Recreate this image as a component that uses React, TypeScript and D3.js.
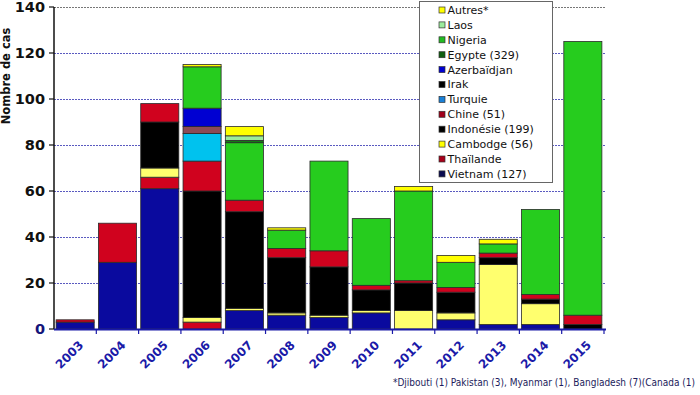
import React, { useEffect, useRef } from "react";
import * as d3 from "d3";

const annees = ["2003", "2004", "2005", "2006", "2007", "2008", "2009", "2010", "2011", "2012", "2013", "2014", "2015"];

// cas par pays et par année (ordre d'empilement, du bas vers le haut)
const vietnam = [3, 29, 61, 0, 8, 6, 5, 7, 0, 4, 2, 2, 0];
const thailande = [0, 17, 5, 3, 0, 0, 0, 0, 0, 0, 0, 0, 0];
const cambodge = [0, 0, 4, 2, 1, 1, 1, 1, 8, 3, 26, 9, 0];
const indonesie = [0, 0, 20, 55, 42, 24, 21, 9, 12, 9, 3, 2, 2];
const chine = [1, 0, 8, 13, 5, 4, 7, 2, 1, 2, 2, 2, 4];
const turquie = [0, 0, 0, 12, 0, 0, 0, 0, 0, 0, 0, 0, 0];
const irak = [0, 0, 0, 3, 0, 0, 0, 0, 0, 0, 0, 0, 0];
const azerbaidjan = [0, 0, 0, 8, 0, 0, 0, 0, 0, 0, 0, 0, 0];
const egypte = [0, 0, 0, 18, 25, 8, 39, 29, 39, 11, 4, 37, 119];
const nigeria = [0, 0, 0, 0, 1, 0, 0, 0, 0, 0, 0, 0, 0];
const laos = [0, 0, 0, 0, 2, 0, 0, 0, 0, 0, 0, 0, 0];
const autres = [0, 0, 0, 1, 4, 1, 0, 0, 2, 3, 2, 0, 0];

const series = [
  { key: "vietnam", label: "Vietnam (127)", values: vietnam },
  { key: "thailande", label: "Thaïlande", values: thailande },
  { key: "cambodge", label: "Cambodge (56)", values: cambodge },
  { key: "indonesie", label: "Indonésie (199)", values: indonesie },
  { key: "chine", label: "Chine (51)", values: chine },
  { key: "turquie", label: "Turquie", values: turquie },
  { key: "irak", label: "Irak", values: irak },
  { key: "azerbaidjan", label: "Azerbaïdjan", values: azerbaidjan },
  { key: "egypte", label: "Egypte (329)", values: egypte },
  { key: "nigeria", label: "Nigeria", values: nigeria },
  { key: "laos", label: "Laos", values: laos },
  { key: "autres", label: "Autres*", values: autres }
];

const yTicks = [0, 20, 40, 60, 80, 100, 120, 140];
const note = "*Djibouti (1) Pakistan (3), Myanmar (1), Bangladesh (7)(Canada (1)";

// couleurs des barres
const barColors: Record<string, string> = {
  vietnam: "#0a0a9e",
  thailande: "#d0021e",
  cambodge: "#ffff6e",
  indonesie: "#000000",
  chine: "#d0021e",
  turquie: "#00c2ee",
  irak: "#8c4a55",
  azerbaidjan: "#0000d2",
  egypte: "#26cc1e",
  nigeria: "#137a13",
  laos: "#9cec9c",
  autres: "#ffff00"
};

// couleurs de la légende (différentes dans l'original)
const legendColors: Record<string, string> = {
  vietnam: "#0a0a50",
  thailande: "#a8001a",
  cambodge: "#ffff00",
  indonesie: "#000000",
  chine: "#a0001a",
  turquie: "#1a80d6",
  irak: "#000000",
  azerbaidjan: "#0000d0",
  egypte: "#0e5e0e",
  nigeria: "#22bb22",
  laos: "#9cec9c",
  autres: "#ffff00"
};

function Graphique() {
  const ref = useRef<SVGSVGElement>(null);

  useEffect(() => {
    const width = 700;
    const height = 395;
    const margin = { top: 7, right: 96, bottom: 66, left: 54 };

    const svg = d3.select(ref.current).attr("width", width).attr("height", height);
    svg.selectAll("*").remove();

    const x = d3
      .scaleBand()
      .domain(annees)
      .range([margin.left, width - margin.right])
      .paddingInner(0.1)
      .paddingOuter(0.05);

    const y = d3
      .scaleLinear()
      .domain([0, 140])
      .range([height - margin.bottom, margin.top]);

    // Grille
    svg
      .append("g")
      .selectAll("line")
      .data(yTicks.filter(d => d > 0))
      .join("line")
      .attr("x1", margin.left)
      .attr("x2", width - margin.right + 2)
      .attr("y1", d => y(d) + 0.5)
      .attr("y2", d => y(d) + 0.5)
      .attr("stroke", d => (d === 140 ? "#777" : "#5a5ac0"))
      .attr("stroke-width", 1)
      .attr("stroke-dasharray", "2,1");

    // Empilement
    const table = annees.map((a, i) => {
      const row: Record<string, any> = { annee: a };
      series.forEach(s => (row[s.key] = s.values[i]));
      return row;
    });
    const stacked = d3.stack().keys(series.map(s => s.key))(table as any);

    svg
      .append("g")
      .selectAll("g")
      .data(stacked)
      .join("g")
      .attr("fill", d => barColors[d.key])
      .selectAll("rect")
      .data(d => d.filter(p => p[1] - p[0] > 0))
      .join("rect")
      .attr("x", d => x((d.data as any).annee)!)
      .attr("y", d => y(d[1]))
      .attr("width", x.bandwidth())
      .attr("height", d => y(d[0]) - y(d[1]))
      .attr("stroke", "#2a2a2a")
      .attr("stroke-width", 0.8);

    // Axe Y
    const axeY = svg.append("g");
    axeY
      .append("line")
      .attr("x1", margin.left)
      .attr("x2", margin.left)
      .attr("y1", y(140))
      .attr("y2", y(0))
      .attr("stroke", "#111")
      .attr("stroke-width", 1.5);
    axeY
      .selectAll(".tick")
      .data(yTicks)
      .join("line")
      .attr("x1", margin.left - 5)
      .attr("x2", margin.left)
      .attr("y1", d => y(d))
      .attr("y2", d => y(d))
      .attr("stroke", "#111")
      .attr("stroke-width", 1.2);
    axeY
      .selectAll("text")
      .data(yTicks)
      .join("text")
      .attr("x", margin.left - 9)
      .attr("y", d => y(d))
      .attr("dy", "0.36em")
      .attr("text-anchor", "end")
      .attr("font-family", "DejaVu Sans, Verdana, sans-serif")
      .attr("font-weight", "bold")
      .attr("font-size", "14.5px")
      .attr("fill", d => (d === 0 ? "#14147a" : "#111"))
      .text(d => d);

    svg
      .append("text")
      .attr("transform", "translate(10,76) rotate(-90)")
      .attr("text-anchor", "middle")
      .attr("font-family", "DejaVu Sans, Verdana, sans-serif")
      .attr("font-weight", "bold")
      .attr("font-size", "11.5px")
      .attr("fill", "#111")
      .text("Nombre de cas");

    // Axe X
    const axeX = svg.append("g");
    const step = x.step();
    axeX
      .append("line")
      .attr("x1", margin.left)
      .attr("x2", width - margin.right + 2)
      .attr("y1", y(0) + 0.5)
      .attr("y2", y(0) + 0.5)
      .attr("stroke", "#1a1aa8")
      .attr("stroke-width", 2);
    axeX
      .selectAll(".tick")
      .data(annees)
      .join("line")
      .attr("x1", d => x(d)! + x.bandwidth() + (step - x.bandwidth()) / 2)
      .attr("x2", d => x(d)! + x.bandwidth() + (step - x.bandwidth()) / 2)
      .attr("y1", y(0))
      .attr("y2", y(0) + 5)
      .attr("stroke", "#1a1aa8")
      .attr("stroke-width", 1.2);
    axeX
      .selectAll("text")
      .data(annees)
      .join("text")
      .attr("transform", d => `translate(${x(d)! + x.bandwidth() / 2 + 3},${y(0) + 11}) rotate(-45)`)
      .attr("text-anchor", "end")
      .attr("dy", "0.7em")
      .attr("font-family", "DejaVu Sans, Verdana, sans-serif")
      .attr("font-weight", "bold")
      .attr("font-size", "12px")
      .attr("fill", "#1a1aa8")
      .text(d => d);

    // Légende
    const leg = svg.append("g");
    leg
      .append("rect")
      .attr("x", 419.5)
      .attr("y", 1.5)
      .attr("width", 133)
      .attr("height", 181)
      .attr("fill", "#fff")
      .attr("stroke", "#666")
      .attr("stroke-width", 1);
    const items = leg
      .selectAll("g")
      .data(series.slice().reverse())
      .join("g")
      .attr("transform", (d, i) => `translate(0,${10 + i * 14.9})`);
    items
      .append("rect")
      .attr("x", 439)
      .attr("y", -3)
      .attr("width", 6)
      .attr("height", 6)
      .attr("fill", d => legendColors[d.key])
      .attr("stroke", "#333")
      .attr("stroke-width", 0.7);
    items
      .append("text")
      .attr("x", 447.5)
      .attr("dy", "0.36em")
      .attr("font-family", "DejaVu Sans, Verdana, sans-serif")
      .attr("font-size", "11px")
      .attr("fill", "#111")
      .text(d => d.label);

    // Note
    svg
      .append("text")
      .attr("x", 695)
      .attr("y", 386)
      .attr("text-anchor", "end")
      .attr("font-family", "DejaVu Sans Condensed, DejaVu Sans, sans-serif")
      .attr("font-size", "10px")
      .attr("fill", "#1c1c5c")
      .text(note);
  }, []);

  return <svg ref={ref} style={{ position: "absolute", left: 0, top: 0 }}></svg>;
}

export default function App() {
  return <Graphique />;
}
